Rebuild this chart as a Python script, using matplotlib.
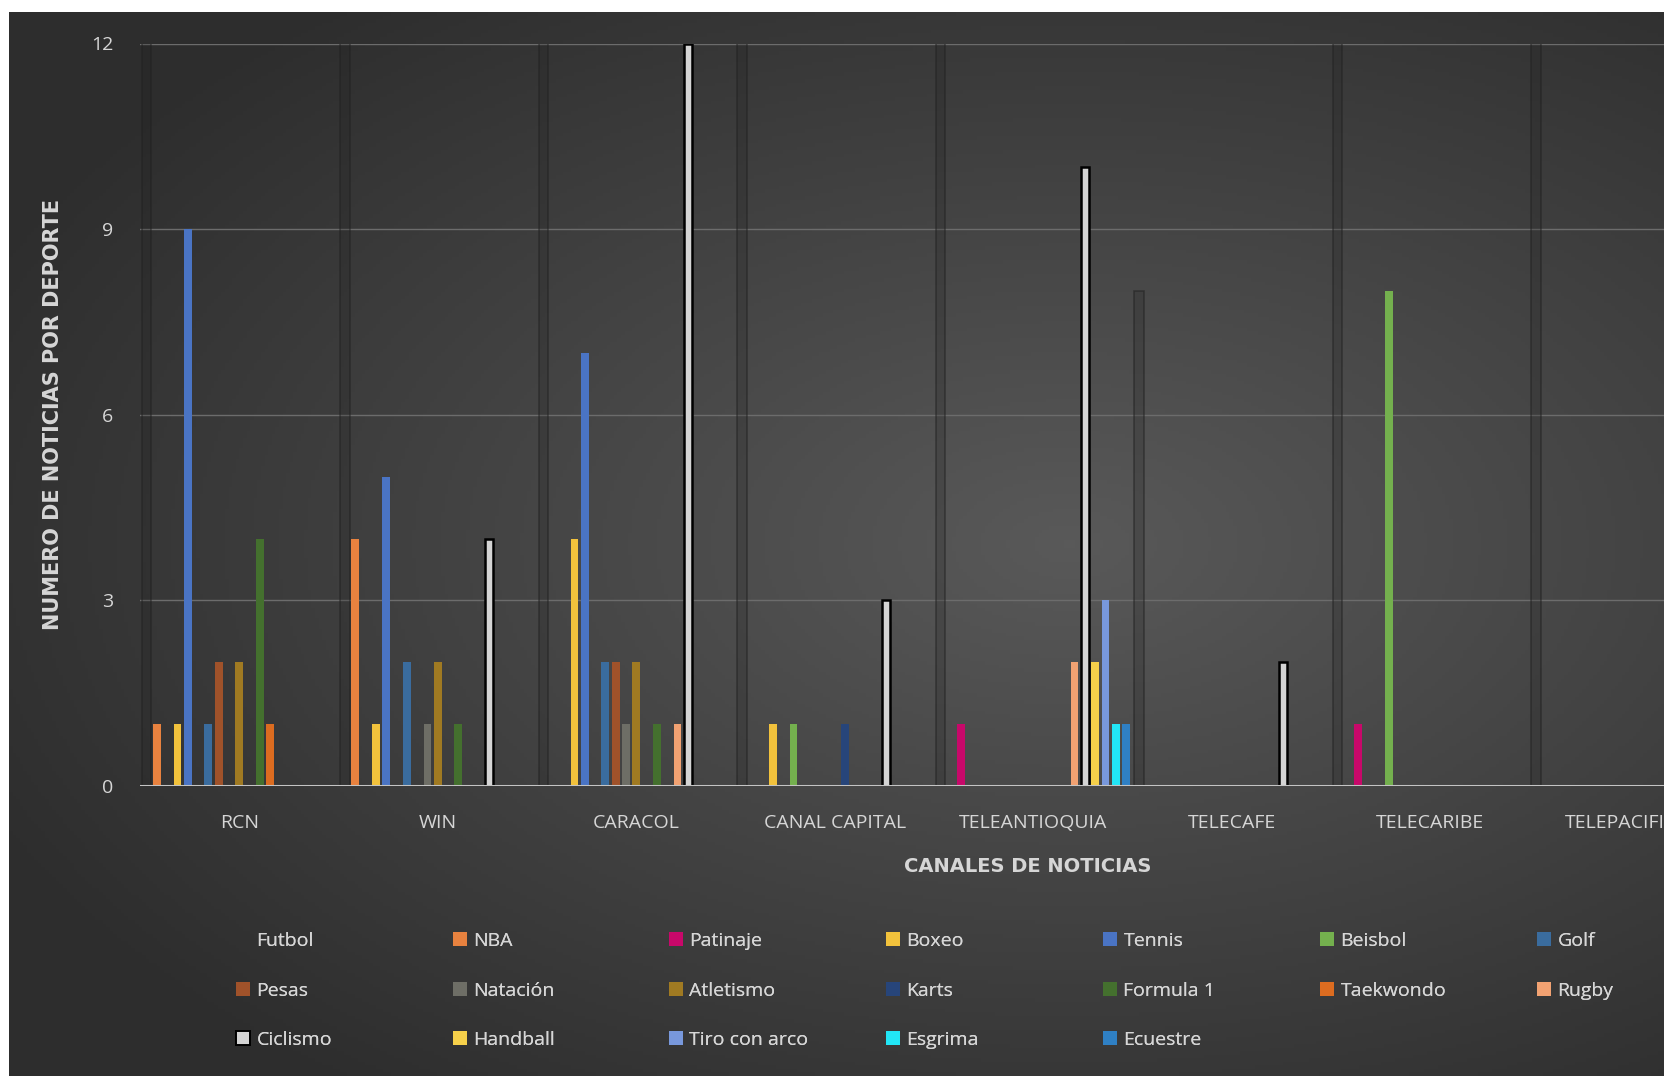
import numpy as np
import matplotlib
matplotlib.use("Agg")
import matplotlib.pyplot as plt
from matplotlib.patches import Patch

plt.rcParams["font.family"] = ["Open Sans", "DejaVu Sans"]

channels = ["RCN", "WIN", "CARACOL", "CANAL CAPITAL", "TELEANTIOQUIA",
            "TELECAFE", "TELECARIBE", "TELEPACIFICO"]

# noticias por deporte en cada canal (Futbol pasa del tope del eje)
futbol = [15, 15, 15, 15, 15, 8, 15, 15]
nba = [1, 4, 0, 0, 0, 0, 0, 0]
patinaje = [0, 0, 0, 0, 1, 0, 1, 0]
boxeo = [1, 1, 4, 1, 0, 0, 0, 0]
tennis = [9, 5, 7, 0, 0, 0, 0, 0]
beisbol = [0, 0, 0, 1, 0, 0, 8, 0]
golf = [1, 2, 2, 0, 0, 0, 0, 0]
pesas = [2, 0, 2, 0, 0, 0, 0, 0]
natacion = [0, 1, 1, 0, 0, 0, 0, 0]
atletismo = [2, 2, 2, 0, 0, 0, 0, 0]
karts = [0, 0, 0, 1, 0, 0, 0, 0]
formula1 = [4, 1, 1, 0, 0, 0, 0, 0]
taekwondo = [1, 0, 0, 0, 0, 0, 0, 0]
rugby = [0, 0, 1, 0, 2, 0, 0, 0]
ciclismo = [0, 4, 12, 3, 10, 2, 0, 0]
handball = [0, 0, 0, 0, 2, 0, 0, 0]
tiro_con_arco = [0, 0, 0, 0, 3, 0, 0, 0]
esgrima = [0, 0, 0, 0, 1, 0, 0, 0]
ecuestre = [0, 0, 0, 0, 1, 0, 0, 0]

series = [
    ("Futbol", futbol, (0.12, 0.12, 0.12, 0.22)),
    ("NBA", nba, "#e8823f"),
    ("Patinaje", patinaje, "#c8086a"),
    ("Boxeo", boxeo, "#f2c23c"),
    ("Tennis", tennis, "#4a74c4"),
    ("Beisbol", beisbol, "#74b04e"),
    ("Golf", golf, "#3a6c9e"),
    ("Pesas", pesas, "#a0522a"),
    ("Natación", natacion, "#6e6e66"),
    ("Atletismo", atletismo, "#a07a22"),
    ("Karts", karts, "#27457a"),
    ("Formula 1", formula1, "#44702e"),
    ("Taekwondo", taekwondo, "#dc6c20"),
    ("Rugby", rugby, "#f2a272"),
    ("Ciclismo", ciclismo, "#d4d4d4"),
    ("Handball", handball, "#f6d04a"),
    ("Tiro con arco", tiro_con_arco, "#7898dc"),
    ("Esgrima", esgrima, "#22e6f6"),
    ("Ecuestre", ecuestre, "#2f80c4"),
]

W, H = 1665, 1080
fig = plt.figure(figsize=(W / 100, H / 100), dpi=100, facecolor="white")

# fondo oscuro con degradado radial
bg = fig.add_axes([9 / W, 4 / H, 1 - 9 / W, 1 - 16 / H])
bg.set_axis_off()
yy, xx = np.mgrid[0:1:300j, 0:1:460j]
r = np.sqrt(((xx - 0.64) / 1.0) ** 2 + ((yy - 0.5) / 0.9) ** 2)
shade = np.clip(0.35 - 0.24 * r, 0.18, 0.36)
bg.imshow(np.dstack([shade] * 3), aspect="auto", extent=[0, 1, 0, 1], origin="lower")

ax = fig.add_axes([140 / W, 1 - 786 / H, (1728 - 140) / W, (786 - 43.5) / H])
ax.patch.set_alpha(0)

x = np.arange(len(channels))
n = len(series)
slot = 0.0519
for i, (name, vals, color) in enumerate(series):
    pos = x + (i - (n - 1) / 2) * slot
    if name == "Ciclismo":
        ax.bar(pos, vals, slot * 0.8, color=color, edgecolor="black", linewidth=1.8, zorder=3)
    elif name == "Futbol":
        ax.bar(pos, vals, slot * 0.9, color=color, edgecolor=(0.13, 0.13, 0.13, 0.55),
               linewidth=1.2, zorder=2)
    else:
        ax.bar(pos, vals, slot * 0.75, color=color, edgecolor="none", zorder=3)

ax.set_xlim(-0.5, len(channels) - 0.5)
ax.set_ylim(0, 12)
ax.set_yticks([0, 3, 6, 9, 12])
ax.grid(axis="y", color="#6c6c6c", linewidth=1.0, zorder=0)
ax.axhline(0, color="#c4c4c4", linewidth=2.2, zorder=4)
for s in ax.spines.values():
    s.set_visible(False)
ax.tick_params(length=0, colors="#d6d6d6", labelsize=14)
ax.tick_params(axis="y", pad=19)
ax.tick_params(axis="x", pad=20)
ax.set_xticks(x)
ax.set_xticklabels(channels)

ax.set_xlabel("CANALES DE NOTICIAS", color="#d6d6d6", fontsize=14, fontweight="bold",
              family=["DejaVu Sans"])
ax.xaxis.set_label_coords((1028 - 140) / (1728 - 140), -0.095)
ax.set_ylabel("NUMERO DE NOTICIAS POR DEPORTE", color="#d6d6d6", fontsize=15,
              fontweight="bold", family=["DejaVu Sans"])
ax.yaxis.set_label_coords(-(140 - 63) / (1728 - 140), 0.5)

# leyenda: 7 columnas, orden por filas
labels = [s[0] for s in series]
ncol = 7
col_x = [236, 453, 669, 886, 1103, 1320, 1537]
for c in range(ncol):
    idx = list(range(c, n, ncol))
    hs = []
    for k in idx:
        name, vals, color = series[k]
        if name == "Ciclismo":
            hs.append(Patch(facecolor=color, edgecolor="black", linewidth=1.4))
        elif name == "Futbol":
            hs.append(Patch(facecolor="none", edgecolor="none"))
        else:
            hs.append(Patch(facecolor=color, edgecolor="none"))
    leg = fig.legend(hs, [labels[k] for k in idx], loc="upper left",
                     bbox_to_anchor=(col_x[c] / W, 1 - 932 / H), frameon=False,
                     fontsize=14, labelcolor="#d6d6d6", handlelength=0.7,
                     handleheight=0.7, handletextpad=0.35, labelspacing=1.62,
                     borderpad=0, borderaxespad=0)
    fig.add_artist(leg)

fig.savefig("out.png", dpi=100, facecolor="white")
